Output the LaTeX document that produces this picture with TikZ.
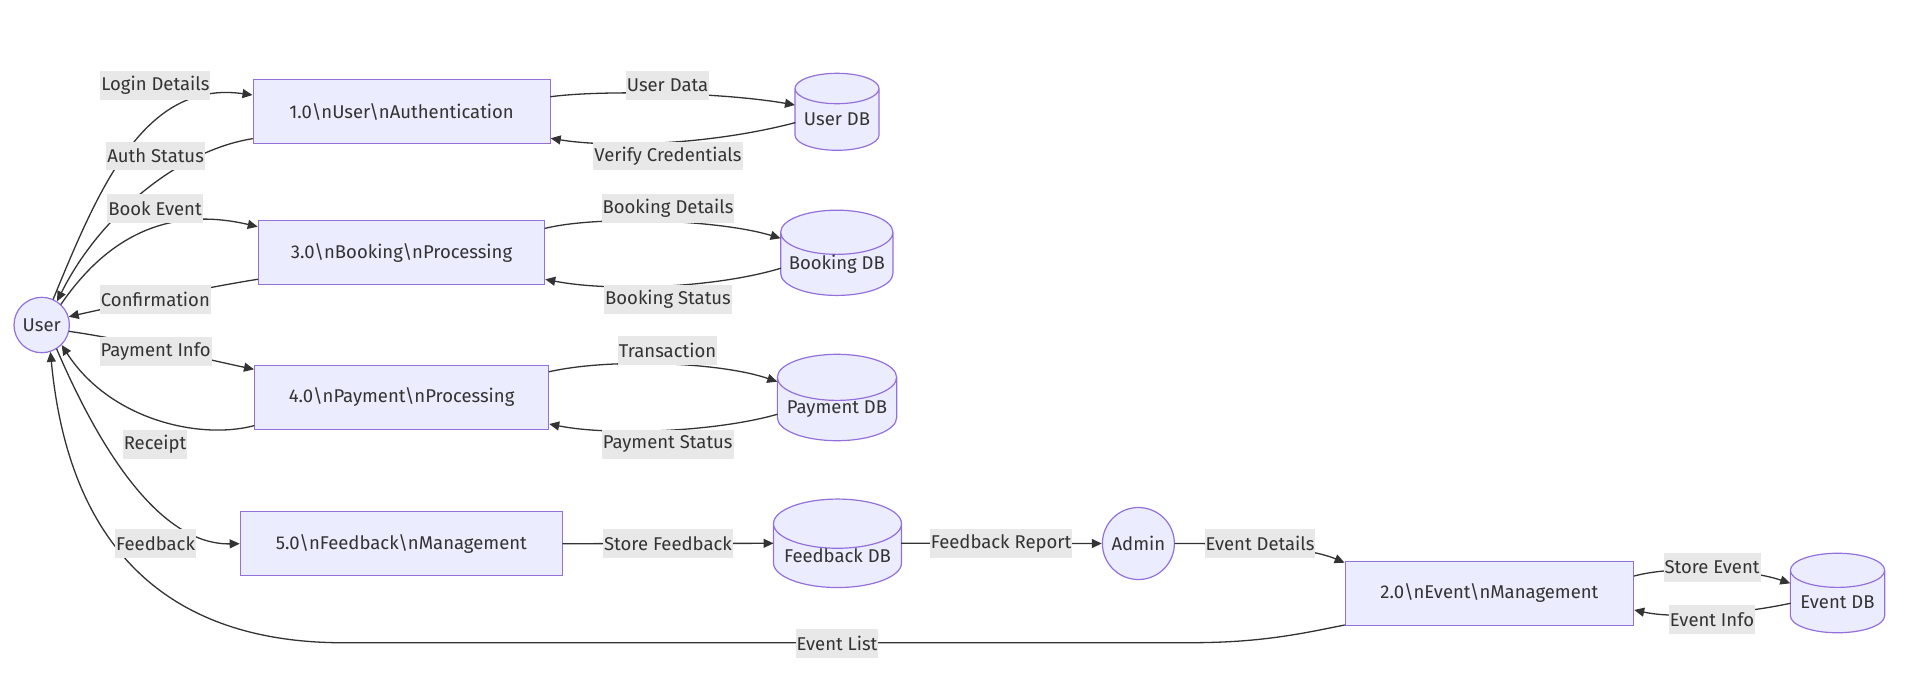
\documentclass[tikz,border=0pt]{standalone}
\usepackage{fontspec}
\setmainfont{Fira Sans}
\usetikzlibrary{shapes.geometric,arrows.meta}
\definecolor{nodefill}{HTML}{ECECFF}
\definecolor{nodeline}{HTML}{9370DB}
\definecolor{edgeline}{HTML}{333333}
\definecolor{lblbg}{HTML}{E8E8E8}
\newcommand{\bsn}{\textbackslash n}

\begin{document}
\begin{tikzpicture}[x=1pt,y=-1pt,line cap=round,font=\fontsize{18.5}{22}\selectfont]
	\tikzstyle{proc}=[draw=nodeline,fill=nodefill,line width=1.2pt,minimum height=64pt,inner sep=0pt,text=edgeline];
	\tikzstyle{ext}=[circle,draw=nodeline,fill=nodefill,line width=1.2pt,inner sep=0pt,text=edgeline];
	\tikzstyle{store}=[cylinder,shape border rotate=90,aspect=0.46,anchor=shape center,draw=nodeline,fill=nodefill,line width=1.2pt,inner sep=0pt,text=edgeline];
	\tikzstyle{flow}=[draw=edgeline,line width=1.3pt,-{Triangle[length=10pt,width=9pt]}];
	\tikzstyle{lbl}=[fill=lblbg,text=edgeline,inner xsep=1pt,inner ysep=0pt,minimum height=28.7pt];
	\useasboundingbox (0,0) rectangle (1911,683);
	%% entities
	\node[ext,minimum size=55.4pt] (user)  at (41.7,325)   {User};
	\node[ext,minimum size=72pt]   (admin) at (1138.4,543.5) {Admin};
	%% processes
	\node[proc,minimum width=297pt]   (auth) at (401.6,111.7) {1.0\bsn User\bsn Authentication};
	\node[proc,minimum width=286.3pt] (book) at (401.5,252.8) {3.0\bsn Booking\bsn Processing};
	\node[proc,minimum width=294pt]   (pay)  at (401.6,397.3) {4.0\bsn Payment\bsn Processing};
	\node[proc,minimum width=322pt]   (fb)   at (401.3,543.7) {5.0\bsn Feedback\bsn Management};
	\node[proc,minimum width=288.4pt] (evt)  at (1489.4,593.3) {2.0\bsn Event\bsn Management};
	%% data stores
	\node[store,minimum width=84pt,minimum height=77pt]    (udb) at (837,111.8)  {User DB};
	\node[store,minimum width=112.3pt,minimum height=83pt] (bdb) at (836.8,252.8) {Booking DB};
	\node[store,minimum width=119.3pt,minimum height=85pt] (pdb) at (837,397.5)  {Payment DB};
	\node[store,minimum width=128pt,minimum height=87pt]   (fdb) at (837.5,543.3) {Feedback DB};
	\node[store,minimum width=94.3pt,minimum height=79.5pt] (edb) at (1837.5,593)  {Event DB};
	%% flows: auth
	\draw[flow] (user.66) .. controls (100,185) and (145,80) .. ([yshift=16.7pt]auth.west);
	\draw[flow] ([yshift=-27pt]auth.west) .. controls (180,150) and (100,215) .. (user.57);
	\draw[flow] ([yshift=15pt]auth.east) .. controls (600,90) and (720,92) .. ([xshift=-42pt,yshift=6.8pt]udb.shape center);
	\draw[flow] ([xshift=-42pt,yshift=-10.9pt]udb.shape center) .. controls (710,145) and (610,148) .. ([yshift=-26.6pt]auth.east);
	%% flows: booking
	\draw[flow] (user.47) .. controls (105,240) and (165,205) .. ([yshift=26.1pt]book.west);
	\draw[flow] ([yshift=-26.5pt]book.west) .. controls (220,285) and (120,305) .. (user.17);
	\draw[flow] ([yshift=24.5pt]book.east) .. controls (600,215) and (720,220) .. ([xshift=-56.2pt,yshift=14.5pt]bdb.shape center);
	\draw[flow] ([xshift=-56.2pt,yshift=-15.5pt]bdb.shape center) .. controls (715,288) and (610,292) .. ([yshift=-26.5pt]book.east);
	%% flows: payment
	\draw[flow] (user.-13) .. controls (130,340) and (200,358) .. ([yshift=28pt]pay.west);
	\draw[flow] ([yshift=-28.4pt]pay.west) .. controls (200,440) and (110,420) .. (user.-45);
	\draw[flow] ([yshift=25.6pt]pay.east) .. controls (610,358) and (720,362) .. ([xshift=-59.7pt,yshift=15.8pt]pdb.shape center);
	\draw[flow] ([xshift=-59.7pt,yshift=-16.8pt]pdb.shape center) .. controls (715,432) and (610,436) .. ([yshift=-26.7pt]pay.east);
	%% flows: feedback
	\draw[flow] (user.-58) .. controls (100,450) and (160,545) .. (fb.west);
	\draw[flow] (fb.east) -- ([xshift=-64pt]fdb.shape center);
	\draw[flow] ([xshift=64pt]fdb.shape center) -- (admin.west);
	\draw[flow] (admin.east) .. controls (1250,543) and (1310,548) .. ([yshift=30.6pt]evt.west);
	%% flows: event
	\draw[flow] ([yshift=17.3pt]evt.east) .. controls (1670,566) and (1745,568) .. ([xshift=-47.2pt,yshift=9.7pt]edb.shape center);
	\draw[flow] ([xshift=-47.2pt,yshift=-10.3pt]edb.shape center) .. controls (1750,612) and (1680,620) .. ([yshift=-16.7pt]evt.east);
	\draw[flow] ([yshift=-31.7pt]evt.west) .. controls (1300,634) and (1260,642.7) .. (1190,642.7)
		-- (350,642.7) .. controls (180,645) and (70,560) .. (user.-72);
	%% labels
	\node[lbl] (lLogin)   at (155.4,85.3)  {Login Details};
	\node[lbl] (lAuth)    at (155.6,156)   {Auth Status};
	\node[lbl] (lBook)    at (155,208.5)   {Book Event};
	\node[lbl] (lConf)    at (155.4,299.2) {Confirmation};
	\node[lbl] (lPay)     at (155.6,351.3) {Payment Info};
	\node[lbl] (lRcpt)    at (155,444.3)   {Receipt};
	\node[lbl] (lFb)      at (155.6,543.7) {Feedback};
	\node[lbl] (lUdata)   at (667.5,85.3)  {User Data};
	\node[lbl] (lVerify)  at (668,156)     {Verify Credentials};
	\node[lbl] (lBdet)    at (668,208.5)   {Booking Details};
	\node[lbl] (lBstat)   at (668,299.2)   {Booking Status};
	\node[lbl] (lTrans)   at (667.5,350.8) {Transaction};
	\node[lbl] (lPstat)   at (667.7,444.3) {Payment Status};
	\node[lbl] (lStoreFb) at (668,543.3)   {Store Feedback};
	\node[lbl] (lReport)  at (1001,543.3)  {Feedback Report};
	\node[lbl] (lEdet)    at (1260,543.3)  {Event Details};
	\node[lbl] (lStoreEv) at (1712,567.3)  {Store Event};
	\node[lbl] (lEinfo)   at (1712,619.3)  {Event Info};
	\node[lbl] (lElist)   at (837,643.3)   {Event List};
\end{tikzpicture}
\end{document}
